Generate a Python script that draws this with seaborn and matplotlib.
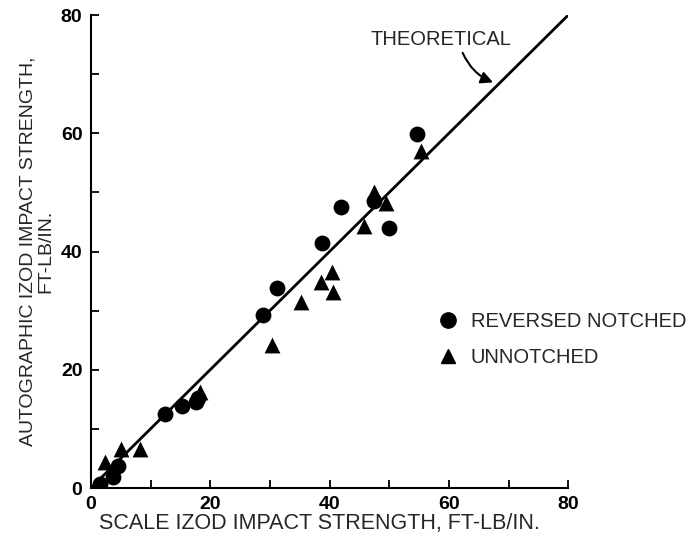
import matplotlib
matplotlib.use("Agg")
import matplotlib.pyplot as plt
import seaborn as sns
import pandas as pd
from matplotlib.lines import Line2D

# reversed notched specimens (scale, autographic)
rev_scale = [1.5, 3.7, 4.6, 12.4, 15.2, 17.7, 18.0, 28.9, 31.2, 38.8, 41.9, 47.5, 49.9, 54.7]
rev_auto = [0.6, 1.8, 3.8, 12.6, 13.9, 14.5, 15.3, 29.2, 33.8, 41.5, 47.6, 48.5, 44.0, 59.9]

# unnotched specimens
unn_scale = [1.0, 2.4, 5.1, 8.2, 18.3, 30.3, 35.2, 38.6, 40.4, 40.5, 45.7, 47.4, 49.4, 55.3]
unn_auto = [0.5, 4.4, 6.6, 6.6, 16.3, 24.2, 31.5, 34.8, 36.6, 33.2, 44.3, 50.1, 48.2, 57.0]

theory_x = [0, 80]
theory_y = [0, 80]

ticks = [0, 20, 40, 60, 80]
minor_ticks = [10, 30, 50, 70]

sns.set_style("ticks")
plt.rcParams["font.family"] = ["Liberation Sans", "DejaVu Sans"]

rev = pd.DataFrame({"scale": rev_scale, "auto": rev_auto})
unn = pd.DataFrame({"scale": unn_scale, "auto": unn_auto})

fig = plt.figure(figsize=(6.88, 5.42), dpi=100)
ax = fig.add_axes([0.132, 0.0996, 0.694, 0.8727])

sns.lineplot(x=theory_x, y=theory_y, color="black", linewidth=2, ax=ax)
sns.scatterplot(data=rev, x="scale", y="auto", marker="o", s=130, color="black",
                edgecolor="black", linewidth=0, ax=ax, zorder=3)
sns.scatterplot(data=unn, x="scale", y="auto", marker="^", s=130, color="black",
                edgecolor="black", linewidth=0, ax=ax, zorder=3)

ax.set_xlim(0, 80)
ax.set_ylim(0, 80)
ax.set_xticks(ticks)
ax.set_yticks(ticks)
ax.set_xticks(minor_ticks, minor=True)
ax.set_yticks(minor_ticks, minor=True)
ax.tick_params(which="both", direction="in", length=6, width=1.3, labelsize=14,
               colors="black")
for lab in ax.get_xticklabels() + ax.get_yticklabels():
    lab.set_fontweight("bold")
ax.tick_params(axis="x", pad=6)
ax.tick_params(axis="y", pad=6)
sns.despine(ax=ax)
for s in ["left", "bottom"]:
    ax.spines[s].set_linewidth(1.5)
    ax.spines[s].set_color("black")

ax.set_xlabel("SCALE IZOD IMPACT STRENGTH, FT-LB/IN.", fontsize=15.5, labelpad=0)
ax.xaxis.set_label_coords(0.478, -0.052)
ax.set_ylabel("AUTOGRAPHIC IZOD IMPACT STRENGTH,\nFT-LB/IN.", fontsize=14,
              labelpad=5, linespacing=1.05)

ax.text(58.6, 75.8, "THEORETICAL", fontsize=14.5, ha="center", va="center")
ax.annotate("", xy=(67.4, 68.6), xytext=(62.3, 73.6),
            arrowprops=dict(arrowstyle="-|>", color="black", lw=1.5,
                            connectionstyle="arc3,rad=0.2", mutation_scale=18,
                            shrinkA=0, shrinkB=0))

handles = [Line2D([], [], marker="o", color="black", linestyle="", markersize=11),
           Line2D([], [], marker="^", color="black", linestyle="", markersize=10)]
ax.legend(handles, ["REVERSED NOTCHED", "UNNOTCHED"], frameon=False, fontsize=14.5,
          loc="upper left", bbox_to_anchor=(0.69, 0.41), labelspacing=0.85,
          handletextpad=0.6, handlelength=1.0)

fig.savefig("out.png", dpi=100)
